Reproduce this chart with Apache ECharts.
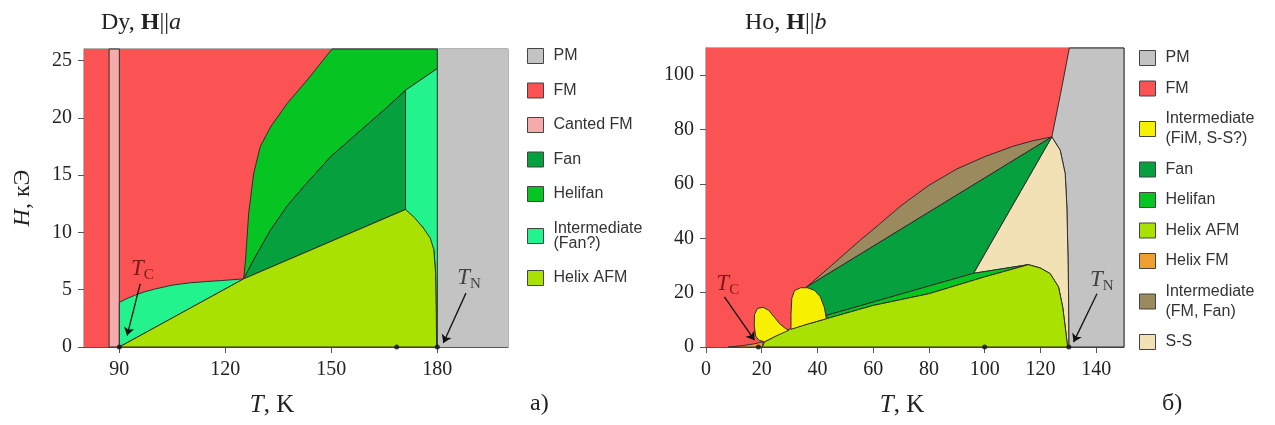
<!DOCTYPE html>
<html>
<head>
<meta charset="utf-8">
<script src="https://cdn.jsdelivr.net/npm/echarts@6/dist/echarts.min.js"></script>
<style>
  html, body { margin: 0; padding: 0; background: #fff; }
  #chart { width: 1275px; height: 425px; }
</style>
</head>
<body>
<div id="chart"></div>
<script>
// ---- Dy, H||a  (T in K, H in kOe) ----
const dyTicksX = [90, 120, 150, 180];
const dyTicksY = [0, 5, 10, 15, 20, 25];
const dyFm = [[[80, 0], [180, 0], [180, 26], [80, 26]]];
const dyCanted = [[[87.1, 0], [90, 0], [90, 26], [87.1, 26]]];
const dyPm = [[[180, 0], [200, 0], [200, 26], [180, 26]]];
const dyHelifan = [[[125.2, 5.95], [125.7, 7.5], [126.6, 11.6], [128, 15.1], [129.9, 17.5], [132.8, 19.2],
  [137.5, 21.25], [143.2, 23.3], [150.2, 26], [180, 26], [180, 24.3], [171, 22.4], [165, 20.7],
  [158.3, 18.9], [149.8, 16.6], [142.2, 14], [137.5, 12.3], [132.8, 10.2], [128, 7.6]]];
const dyFan = [[[125.2, 5.95], [128, 7.6], [132.8, 10.2], [137.5, 12.3], [142.2, 14], [149.8, 16.6],
  [158.3, 18.9], [165, 20.7], [171, 22.4], [171, 12]]];
const dyInter = [
  [[90, 0], [90, 3.9], [92, 4.2], [94.6, 4.55], [97.5, 4.85], [100, 5.05], [105, 5.4], [110, 5.6],
   [115, 5.72], [120, 5.82], [125.2, 5.95]],
  [[171, 12], [171, 22.4], [180, 24.3], [180, 0], [179.8, 0], [179.5, 6.5], [179, 8.5], [176, 10.4]]
];
const dyHelixAfm = [[[90, 0], [125.2, 5.95], [171, 12], [173.5, 11.3], [176, 10.4], [178, 9.5],
  [179, 8.5], [179.5, 6.5], [179.7, 3], [179.8, 0]]];
const dyDots = [[90, 0], [168.5, 0], [180, 0]];
const dyTc = [[96.5, 6.8]];
const dyTn = [[189, 6.0]];
const dyArrows = [[[95.9, 5.5], [92.2, 1.0]], [[188.1, 4.7], [181.7, 0.35]]];

// ---- Ho, H||b ----
const hoTicksX = [0, 20, 40, 60, 80, 100, 120, 140];
const hoTicksY = [0, 20, 40, 60, 80, 100];
const hoFm = [[[0, 0], [150, 0], [150, 110], [0, 110]]];
const hoPm = [[[130.4, 110], [150, 110], [150, 0], [130.2, 0], [130.1, 20], [129.9, 33], [129.5, 51.5],
  [128.9, 63.8], [127.1, 72.4], [124.1, 77.3], [127.2, 93], [130.4, 110]]];
const hoHelixFm = [[[8, 0], [13, 0.5], [17, 1.1], [20.5, 1.9], [20.3, 0]]];
const hoInterFmFan = [[[36, 22], [45, 30], [55, 39], [62, 45], [70, 52], [80, 59.5], [90, 65.5],
  [100, 70], [110, 73.8], [117, 75.8], [124.1, 77.3]]];
const hoSs = [[[96, 27.1], [115.7, 30.3], [119.9, 29.1], [123.5, 27], [126.5, 22.1], [128, 14.7],
  [128.9, 7.4], [129.7, 0.6], [130.2, 0], [130.1, 20], [129.9, 33], [129.5, 51.5], [128.9, 63.8],
  [127.1, 72.4], [124.1, 77.3]]];
const hoFan = [[[36, 22], [124.1, 77.3], [96, 27.1], [43.5, 11.7], [40, 16]]];
const hoHelifan = [[[43.2, 10.4], [60, 15.3], [80, 19.6], [100, 25.8], [115.7, 30.3], [96, 27.1],
  [70, 19.5], [43.5, 11.7]]];
const hoHelixAfm = [[[20.3, 0], [21, 1.9], [25, 4], [30, 6.6], [37, 8.6], [43.2, 10.4], [60, 15.3],
  [80, 19.6], [100, 25.8], [115.7, 30.3], [119.9, 29.1], [123.5, 27], [126.5, 22.1], [128, 14.7],
  [128.9, 7.4], [129.7, 0.6], [130, 0]]];
const hoInterFimSs = [
  [[17.8, 4], [17.3, 8], [17.4, 12], [18.5, 14.2], [20.5, 14.6], [22.5, 13.5], [24.5, 11], [26.5, 8.5],
   [28.5, 6.8], [29.8, 6.2], [25, 4], [21, 1.9], [19, 2.5]],
  [[30.5, 6.5], [30.5, 12], [30.8, 18], [31.8, 20.8], [34, 21.8], [36.5, 21.8], [39, 20.8], [41, 18.5],
   [42.5, 14.5], [43.2, 10.4], [37, 8.6]]
];
const hoDots = [[18.8, 0], [100, 0], [130.2, 0]];
const hoTc = [[7.8, 23.3]];
const hoTn = [[142, 24.5]];
const hoArrows = [[[6.6, 18.4], [17.4, 2.5]], [[140.3, 19.6], [131.9, 1.8]]];

const colors = {
  PM: '#c3c3c3',
  FM: '#fb5353',
  canted: '#f6abab',
  fan: '#06a03e',
  helifan: '#06c522',
  interFan: '#22f38c',
  helixAfm: '#a8e102',
  helixFm: '#f0a030',
  interFim: '#f7f000',
  interFmFan: '#9a8a5e',
  ss: '#f1e1b4'
};
const edge = '#2e2e2e';
const serif = 'Liberation Serif';
const sans = 'Liberation Sans';

function region(name, polys, color, axis, stroke) {
  return {
    name: name,
    type: 'custom',
    xAxisIndex: axis,
    yAxisIndex: axis,
    silent: true,
    itemStyle: { color: color },
    data: polys.map(p => p[0]),
    renderItem: function (params, api) {
      const pts = polys[params.dataIndex].map(p => api.coord(p));
      return {
        type: 'polygon',
        shape: { points: pts },
        style: { fill: color, stroke: stroke === false ? null : edge, lineWidth: 1 }
      };
    }
  };
}

function marker(data, text, color, axis) {
  return {
    type: 'scatter', xAxisIndex: axis, yAxisIndex: axis, silent: true,
    symbolSize: 0, data: data,
    label: {
      show: true, position: 'inside', formatter: text,
      rich: {
        t: { fontFamily: serif, fontStyle: 'italic', fontSize: 23, color: color },
        s: { fontFamily: serif, fontSize: 15, color: color, padding: [12, 0, 0, 0] }
      }
    }
  };
}

function arrows(list, axis) {
  return {
    type: 'lines', coordinateSystem: 'cartesian2d', xAxisIndex: axis, yAxisIndex: axis,
    silent: true, symbol: ['none', 'arrow'], symbolSize: 8,
    lineStyle: { color: '#111', width: 1.3, opacity: 1 },
    data: list.map(c => ({ coords: c }))
  };
}

function dots(data, axis) {
  return {
    type: 'scatter', xAxisIndex: axis, yAxisIndex: axis, silent: true, clip: false,
    symbolSize: 5, itemStyle: { color: '#111' }, data: data, z: 5
  };
}

function xAxis(idx, min, max, ticks, pad) {
  return {
    type: 'value', gridIndex: idx, min: min, max: max,
    name: '{i|T}, K', nameLocation: 'middle', nameGap: 46,
    nameTextStyle: {
      fontFamily: serif, fontSize: 25, color: '#222', padding: [0, pad, 0, 0],
      rich: { i: { fontFamily: serif, fontSize: 25, fontStyle: 'italic', color: '#222' } }
    },
    axisLine: { show: true, lineStyle: { color: '#555', width: 1 } },
    axisTick: { show: true, length: 6, customValues: ticks, lineStyle: { color: '#555' } },
    axisLabel: { customValues: ticks, margin: 13, fontFamily: serif, fontSize: 20, color: '#222' },
    splitLine: { show: false }
  };
}

function yAxis(idx, max, ticks, name) {
  return {
    type: 'value', gridIndex: idx, min: 0, max: max,
    name: name, nameLocation: 'middle', nameGap: 49,
    nameTextStyle: {
      fontFamily: serif, fontSize: 24, color: '#222',
      rich: { i: { fontFamily: serif, fontSize: 24, fontStyle: 'italic', color: '#222' } }
    },
    axisLine: { show: true, lineStyle: { color: '#555', width: 1 } },
    axisTick: { show: true, length: 6, customValues: ticks, lineStyle: { color: '#555' } },
    axisLabel: { customValues: ticks, margin: 12, fontFamily: serif, fontSize: 20, color: '#222' },
    splitLine: { show: false }
  };
}

function legend(left, top, gap, lineH, names) {
  return {
    orient: 'vertical', icon: 'rect', itemWidth: 16, itemHeight: 15,
    left: left, top: top, itemGap: gap, padding: 0,
    selectedMode: false,
    itemStyle: { borderColor: '#444', borderWidth: 1 },
    textStyle: { fontFamily: sans, fontSize: 16, color: '#333', lineHeight: lineH, padding: [0, 0, 0, 5] },
    data: names
  };
}

const chart = echarts.init(document.getElementById('chart'), null, { renderer: 'canvas' });
chart.setOption({
  animation: false,
  title: [
    {
      text: 'Dy, {b|H}||{i|a}', left: 96, top: 6,
      textStyle: {
        fontFamily: serif, fontSize: 24, fontWeight: 'normal', color: '#222',
        rich: {
          b: { fontFamily: serif, fontSize: 24, fontWeight: 'bold', color: '#222' },
          i: { fontFamily: serif, fontSize: 24, fontStyle: 'italic', color: '#222' }
        }
      }
    },
    {
      text: 'Ho, {b|H}||{i|b}', left: 740, top: 6,
      textStyle: {
        fontFamily: serif, fontSize: 24, fontWeight: 'normal', color: '#222',
        rich: {
          b: { fontFamily: serif, fontSize: 24, fontWeight: 'bold', color: '#222' },
          i: { fontFamily: serif, fontSize: 24, fontStyle: 'italic', color: '#222' }
        }
      }
    }
  ],
  grid: [
    { left: 84, top: 49, width: 424, height: 298, show: true, borderColor: '#666', borderWidth: 1, backgroundColor: 'transparent' },
    { left: 706, top: 48, width: 418, height: 299, show: true, borderColor: '#666', borderWidth: 1, backgroundColor: 'transparent' }
  ],
  xAxis: [xAxis(0, 80, 200, dyTicksX, 48), xAxis(1, 0, 150, hoTicksX, 26)],
  yAxis: [yAxis(0, 26, dyTicksY, '{i|H}, кЭ'), yAxis(1, 110, hoTicksY, '')],
  legend: [
    legend(527, 48, 18.5, 15,
      ['PM', 'FM', 'Canted FM', 'Fan', 'Helifan', 'Intermediate\n(Fan?)', 'Helix AFM']),
    legend(1139, 48, 10.5, 20,
      ['PM', 'FM', 'Intermediate\n(FiM, S-S?)', 'Fan', 'Helifan', 'Helix AFM', 'Helix FM',
        'Intermediate\n(FM, Fan)', 'S-S'])
  ],
  graphic: [
    { type: 'text', left: 530, top: 392, style: { text: 'a)', font: '24px "Liberation Serif"', fill: '#222' } },
    { type: 'text', left: 1162, top: 392, style: { text: 'б)', font: '24px "Liberation Serif"', fill: '#222' } }
  ],
  series: [
    region('FM', dyFm, colors.FM, 0, false),
    region('Canted FM', dyCanted, colors.canted, 0),
    region('PM', dyPm, colors.PM, 0, false),
    region('Helifan', dyHelifan, colors.helifan, 0),
    region('Fan', dyFan, colors.fan, 0),
    region('Intermediate\n(Fan?)', dyInter, colors.interFan, 0),
    region('Helix AFM', dyHelixAfm, colors.helixAfm, 0),
    dots(dyDots, 0),
    arrows(dyArrows, 0),
    marker(dyTc, '{t|T}{s|C}', '#5a0c0c', 0),
    marker(dyTn, '{t|T}{s|N}', '#222', 0),

    region('FM', hoFm, colors.FM, 1, false),
    region('PM', hoPm, colors.PM, 1),
    region('Helix FM', hoHelixFm, colors.helixFm, 1),
    region('Intermediate\n(FM, Fan)', hoInterFmFan, colors.interFmFan, 1),
    region('S-S', hoSs, colors.ss, 1),
    region('Fan', hoFan, colors.fan, 1),
    region('Helifan', hoHelifan, colors.helifan, 1),
    region('Helix AFM', hoHelixAfm, colors.helixAfm, 1),
    region('Intermediate\n(FiM, S-S?)', hoInterFimSs, colors.interFim, 1),
    dots(hoDots, 1),
    arrows(hoArrows, 1),
    marker(hoTc, '{t|T}{s|C}', '#5a0c0c', 1),
    marker(hoTn, '{t|T}{s|N}', '#222', 1)
  ]
});
</script>
</body>
</html>
